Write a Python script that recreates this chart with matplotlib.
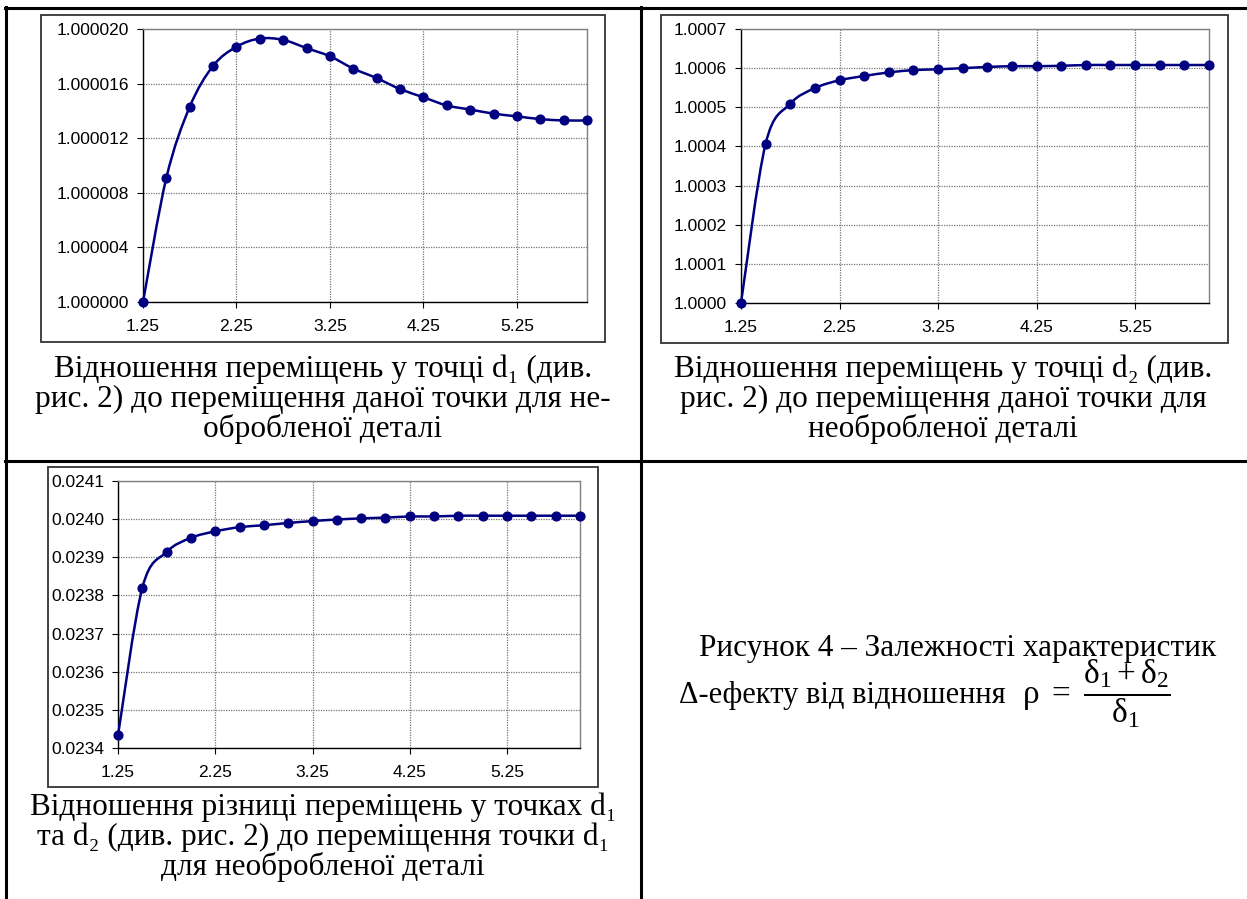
import matplotlib
matplotlib.use('Agg')
import matplotlib.pyplot as plt
import numpy as np
from matplotlib.path import Path
from matplotlib.patches import PathPatch, Rectangle
from matplotlib.lines import Line2D
from matplotlib.ticker import FixedLocator, FormatStrFormatter

plt.rcParams['font.family'] = ['Liberation Sans', 'DejaVu Sans']
plt.rcParams['mathtext.fontset'] = 'custom'
plt.rcParams['mathtext.rm'] = 'Liberation Serif'
plt.rcParams['mathtext.it'] = 'Liberation Serif:italic'
plt.rcParams['mathtext.bf'] = 'Liberation Serif:bold'

# відношення rho
rho = [1.25, 1.5, 1.75, 2.0, 2.25, 2.5, 2.75, 3.0, 3.25, 3.5,
       3.75, 4.0, 4.25, 4.5, 4.75, 5.0, 5.25, 5.5, 5.75, 6.0]

# переміщення у точці d1
d1_ratio = [1.0000000, 1.0000091, 1.0000143, 1.0000173, 1.0000187, 1.0000193,
            1.0000192, 1.0000186, 1.0000180, 1.0000171, 1.0000164, 1.0000156,
            1.0000150, 1.0000144, 1.0000141, 1.0000138, 1.0000136, 1.0000134,
            1.0000133, 1.0000133]

# переміщення у точці d2
d2_ratio = [1.00000, 1.000407, 1.000509, 1.000549, 1.000569, 1.000580,
            1.000589, 1.000595, 1.000597, 1.000600, 1.000603, 1.000605,
            1.000605, 1.000606, 1.000608, 1.000608, 1.000608, 1.000608,
            1.000608, 1.000608]

# різниця переміщень d1 - d2
diff_ratio = [0.023433, 0.023820, 0.023914, 0.023951, 0.023968, 0.023979,
              0.023984, 0.023990, 0.023995, 0.023999, 0.024002, 0.024004,
              0.024007, 0.024007, 0.024009, 0.024009, 0.024009, 0.024009,
              0.024009, 0.024009]

x_ticks = [1.25, 2.25, 3.25, 4.25, 5.25]

W, H = 1247, 899
fig = plt.figure(figsize=(W / 100, H / 100), dpi=100)
fig.patch.set_facecolor('white')


def box(l, t, r, b):
    # пікселі -> частки фігури
    return [l / W, 1 - b / H, (r - l) / W, (b - t) / H]


def smooth_path(x, y):
    # згладжена лінія як у Excel (криві Безьє через точки)
    x = np.asarray(x, dtype=float)
    y = np.asarray(y, dtype=float)
    n = len(x)
    verts = [(x[0], y[0])]
    codes = [Path.MOVETO]
    for i in range(n - 1):
        i0 = max(i - 1, 0)
        i3 = min(i + 2, n - 1)
        c1 = (x[i] + (x[i + 1] - x[i0]) / 6, y[i] + (y[i + 1] - y[i0]) / 6)
        c2 = (x[i + 1] - (x[i3] - x[i]) / 6, y[i + 1] - (y[i3] - y[i]) / 6)
        verts += [c1, c2, (x[i + 1], y[i + 1])]
        codes += [Path.CURVE4] * 3
    return Path(verts, codes)


def make_chart(plot_box, frame_box, y, ylim, ystep, fmt):
    fig.add_artist(Rectangle((frame_box[0], frame_box[1]), frame_box[2], frame_box[3],
                             transform=fig.transFigure, fill=False,
                             ec='#333333', lw=1.3, zorder=0))
    ax = fig.add_axes(plot_box)
    ax.set_xlim(1.25, 6.0)
    ax.set_ylim(*ylim)
    yt = np.arange(ylim[0], ylim[1] + ystep / 2, ystep)
    ax.yaxis.set_major_locator(FixedLocator(yt))
    ax.yaxis.set_major_formatter(FormatStrFormatter(fmt))
    ax.xaxis.set_major_locator(FixedLocator(x_ticks))
    ax.xaxis.set_major_formatter(FormatStrFormatter('%.2f'))
    ax.grid(True, color='#777777', lw=0.9, linestyle=(0, (1, 1)))
    ax.set_axisbelow(True)
    for s in ['top', 'right']:
        ax.spines[s].set_color('#808080')
        ax.spines[s].set_linewidth(1.0)
    for s in ['left', 'bottom']:
        ax.spines[s].set_color('black')
        ax.spines[s].set_linewidth(1.0)
    ax.tick_params(axis='x', direction='out', length=4, pad=8, labelsize=12.5)
    ax.tick_params(axis='y', direction='out', length=4, pad=6, labelsize=12.5)
    ax.add_patch(PathPatch(smooth_path(rho, y), fill=False, ec='#000080',
                           lw=1.8, zorder=3, clip_on=False))
    ax.plot(rho, y, 'o', color='#000080', ms=6.3, zorder=4, clip_on=False)
    return ax


make_chart(box(143, 29, 587, 302), box(41, 15, 605, 342), d1_ratio,
           (1.0, 1.00002), 0.000004, '%.6f')
make_chart(box(741, 29, 1209, 303), box(661, 15, 1228, 343), d2_ratio,
           (1.0, 1.0007), 0.0001, '%.4f')
make_chart(box(118, 481, 580, 748), box(48, 467, 598, 787), diff_ratio,
           (0.0234, 0.0241), 0.0001, '%.4f')

# лінії таблиці
def hline(y, x0, x1):
    fig.add_artist(Line2D([x0 / W, x1 / W], [1 - y / H, 1 - y / H],
                          color='black', lw=2.2, transform=fig.transFigure))


def vline(x, y0, y1):
    fig.add_artist(Line2D([x / W, x / W], [1 - y0 / H, 1 - y1 / H],
                          color='black', lw=2.2, transform=fig.transFigure))


hline(8, 5, W)
hline(461, 5, W)
vline(6, 7, H)
vline(641, 7, H)

serif = ['Liberation Serif', 'DejaVu Serif']
cap_size = 22.5


def caption(lines, xc, last_baseline):
    # va='baseline' тут прив'язує останній рядок
    fig.text(xc / W, 1 - last_baseline / H, '\n'.join(lines),
             ha='center', va='baseline', multialignment='center',
             linespacing=1.02, family=serif, size=cap_size)


caption(['Відношення переміщень у точці d₁ (див.',
         'рис. 2) до переміщення даної точки для не-',
         'обробленої деталі'], 323, 437)
caption(['Відношення переміщень у точці d₂ (див.',
         'рис. 2) до переміщення даної точки для',
         'необробленої деталі'], 943, 437)
caption(['Відношення різниці переміщень у точках d₁',
         'та d₂ (див. рис. 2) до переміщення точки d₁',
         'для необробленої деталі'], 323, 875)

fig.text(958 / W, 1 - 656 / H, 'Рисунок 4 – Залежності характеристик',
         ha='center', va='baseline', family=serif, size=cap_size)
fig.text(1006 / W, 1 - 703 / H, 'Δ-ефекту від відношення',
         ha='right', va='baseline', family=serif, size=22)
fig.text(1022 / W, 1 - 705 / H,
         '$\\mathrm{\\rho}\\ =\\ \\dfrac{\\mathrm{\\delta}_1 + \\mathrm{\\delta}_2}{\\mathrm{\\delta}_1}$',
         ha='left', va='baseline', family=serif, size=24)

fig.savefig('out.png', dpi=100, facecolor='white')
